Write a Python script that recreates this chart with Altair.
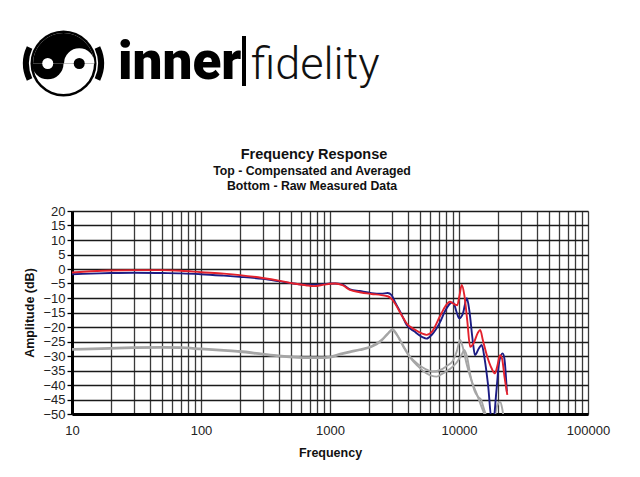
import math
import altair as alt
import pandas as pd

# ---------------- data ----------------
red_f = [10, 14, 20, 30, 50, 70, 100, 150, 200, 300, 400, 520, 650, 750, 900, 1000, 1100, 1250,
         1430, 1700, 2100, 2500, 2800, 3000, 3200, 3600, 3930, 4500, 5200, 5600, 6200, 7100,
         7800, 8500, 9100, 9700, 10100, 10500, 11000, 11600, 12200, 13000, 14000, 14600, 15300,
         16500, 18000, 19000, 19800, 20800, 21600, 22500, 23700]
red_db = [-1.2, -0.8, -0.5, -0.4, -0.4, -0.6, -1.1, -1.6, -2.1, -3.1, -4.0, -5.0, -5.6, -5.9, -5.4,
          -5.1, -5.0, -5.6, -7.2, -8.0, -8.6, -9.0, -9.4, -10.3, -12.0, -16.0, -18.8, -20.8, -22.3,
          -22.7, -21.5, -16.4, -13.0, -11.3, -12.0, -12.5, -9.0, -5.5, -9.0, -18.0, -26.8, -25.5,
          -22.0, -21.0, -24.5, -30.0, -34.5, -36.0, -33.5, -29.7, -31.0, -37.0, -43.4]

blue_f = [10, 14, 20, 30, 50, 70, 100, 150, 200, 300, 400, 520, 650, 750, 900, 1000, 1100, 1250,
          1430, 1700, 2100, 2500, 2800, 3000, 3200, 3600, 3930, 4500, 5200, 5600, 6200, 7100,
          7800, 8500, 9000, 9600, 10050, 10700, 11500, 12000, 12800, 13300, 14200, 15000, 15800,
          16800, 17900, 18500, 19500, 20500, 21800, 22500, 23500]
blue_db = [-1.8, -1.6, -1.4, -1.3, -1.4, -1.5, -1.8, -2.3, -2.7, -3.4, -4.2, -5.0, -5.4, -5.4, -5.2,
           -5.0, -5.0, -5.4, -7.0, -7.6, -8.3, -8.5, -8.3, -9.0, -11.5, -15.8, -19.3, -21.5, -23.5,
           -24.0, -22.5, -18.5, -14.5, -12.0, -11.5, -15.0, -17.0, -15.5, -10.1, -14.0, -25.0,
           -29.7, -27.5, -26.2, -31.0, -40.0, -52.0, -52.0, -42.0, -32.0, -29.1, -31.0, -42.3]

gray1_f = [10, 20, 30, 50, 70, 100, 150, 200, 300, 400, 520, 700, 850, 1000, 1200, 1430, 1700,
           2100, 2500, 2800, 3050, 3300, 3700, 4170, 4800, 5500, 6200, 7000, 8000, 9000, 9600,
           10200, 10700, 11500, 12500, 13700, 14800, 15900, 16500]
gray1_db = [-27.6, -27.2, -27.0, -26.9, -27.0, -27.4, -27.9, -28.3, -29.2, -29.8, -30.2, -30.4,
            -30.4, -30.2, -29.2, -28.4, -27.7, -26.6, -24.5, -22.2, -20.8, -22.5, -26.5, -30.2,
            -32.8, -34.5, -35.4, -35.0, -33.5, -31.5, -28.5, -24.5, -27.0, -33.0, -38.5, -43.0,
            -47.0, -50.5, -52.0]

gray2_f = [10, 20, 30, 50, 70, 100, 150, 200, 300, 400, 520, 700, 850, 1000, 1200, 1430, 1700,
           2100, 2500, 2800, 3050, 3300, 3700, 4170, 4800, 5500, 6700, 7500, 8500, 9500, 10500,
           11000, 11500, 12300, 13200, 14000, 14800, 15800, 16800, 18500, 19800, 20800, 21600,
           22300]
gray2_db = [-27.9, -27.5, -27.3, -27.2, -27.3, -27.7, -28.2, -28.6, -29.5, -30.1, -30.5, -30.7,
            -30.7, -30.5, -29.5, -28.7, -28.0, -26.9, -24.8, -22.5, -21.1, -22.8, -26.8, -30.5,
            -33.5, -35.8, -37.1, -36.0, -34.5, -32.5, -29.5, -27.9, -30.0, -37.0, -42.0, -44.0,
            -45.0, -49.0, -52.0, -52.0, -47.0, -45.8, -48.0, -52.0]

x_ticks = [d * 10 ** k for k in range(1, 5) for d in range(1, 10)] + [100000]
y_ticks = list(range(-50, 21, 5))

W, H = 516, 203
OX, OY = 72, 211  # page position of plot origin

def df(f, v):
    return pd.DataFrame({"f": f, "db": v})

xs = alt.Scale(type="log", domain=[10, 100000], nice=False)
ys = alt.Scale(domain=[-50, 20], nice=False)

major = "datum.value==10||datum.value==100||datum.value==1000||datum.value==10000||datum.value==100000"

x_enc = alt.X("f:Q", scale=xs, title="Frequency",
              axis=alt.Axis(values=x_ticks, grid=True, gridColor="#3a3a3a", gridWidth=1.3,
                            labelExpr=f"({major}) ? format(datum.value, 'd') : ''",
                            ticks=False, domain=True, domainColor="black", domainWidth=3,
                            labelFont="Liberation Sans", labelFontSize=13, labelColor="#222",
                            labelPadding=10, labelFlush=False,
                            titleFont="Liberation Sans", titleFontSize=12.5, titleFontWeight="bold",
                            titlePadding=9, titleColor="#111"))
y_enc = alt.Y("db:Q", scale=ys, title="Amplitude (dB)",
              axis=alt.Axis(values=y_ticks, grid=True, gridColor="#1a1a1a", gridWidth=1.4,
                            ticks=True, tickSize=5, tickColor="black", tickWidth=1.3,
                            domain=True, domainColor="black", domainWidth=3,
                            labelFont="Liberation Sans", labelFontSize=13, labelColor="#222",
                            labelPadding=2,
                            titleFont="Liberation Sans", titleFontSize=12.5, titleFontWeight="bold",
                            titlePadding=6, titleColor="#111"))

def line(f, v, color, w=1.9):
    return alt.Chart(df(f, v)).mark_line(color=color, strokeWidth=w, clip=True,
                                          interpolate="monotone").encode(x=x_enc, y=y_enc)

curves = [
    line(gray1_f, gray1_db, "#a6a6a6"),
    line(gray2_f, gray2_db, "#a6a6a6"),
    line(blue_f, blue_db, "#1c1c84"),
    line(red_f, red_db, "#e3212c"),
]

one = alt.Data(values=[{"a": 1}])

def arc(cx, cy, r, t0, t1, color, inner=0):
    return alt.Chart(one).mark_arc(radius=r, radius2=inner, theta=t0, theta2=t1, color=color,
                                   clip=False).encode(x=alt.value(cx - OX), y=alt.value(cy - OY))

def text(s, x, y, size, weight="bold", font="Liberation Sans", align="center", color="#111"):
    return alt.Chart(one).mark_text(text=s, fontSize=size, fontWeight=weight, font=font,
                                    align=align, baseline="alphabetic", color=color,
                                    clip=False).encode(x=alt.value(x - OX), y=alt.value(y - OY))

P = math.pi
cx, cy, R = 63.5, 63.5, 31.5
logo = [
    arc(cx, cy, R + 1.5, 0, 2 * P, "black"),
    arc(cx, cy, R - 1, 0, 2 * P, "white"),
    arc(cx, cy, R - 1, 1.5 * P, 2.5 * P, "black"),
    arc(cx - R / 2, cy, R / 2, 0.5 * P, 1.5 * P, "black"),
    arc(cx + R / 2, cy, R / 2 - 0.5, 1.5 * P, 2.5 * P, "white"),
    arc(cx - R / 2, cy, 5.5, 0, 2 * P, "white"),
    arc(cx + R / 2, cy, 5.5, 0, 2 * P, "black"),
    arc(cx, cy, R + 9, 1.36 * P, 1.64 * P, "black", inner=R + 3),
    arc(cx, cy, R + 9, 0.36 * P, 0.64 * P, "black", inner=R + 3),
    text("inner", 118, 79, 53, weight=900, font="Roboto", align="left", color="black"),
    alt.Chart(one).mark_rule(color="black", strokeWidth=4, clip=False).encode(
        x=alt.value(244 - OX), y=alt.value(36 - OY), y2=alt.value(86 - OY)),
    text("fidelity", 251, 79, 45, weight=300, font="Roboto", align="left", color="#111"),
]

titles = [
    text("Frequency Response", 314, 159, 14.5),
    text("Top -  Compensated and Averaged", 312, 175, 12.3),
    text("Bottom - Raw Measured Data", 312, 190, 12.3),
]

chart = alt.layer(*curves, *logo, *titles).properties(
    width=W, height=H,
    autosize="none",
    padding={"left": 64, "top": 203, "right": 44, "bottom": 55},
).configure_view(stroke="black", strokeWidth=2).configure(background="white")

chart.save("out.html", embed_options={"renderer": "svg", "actions": False})
